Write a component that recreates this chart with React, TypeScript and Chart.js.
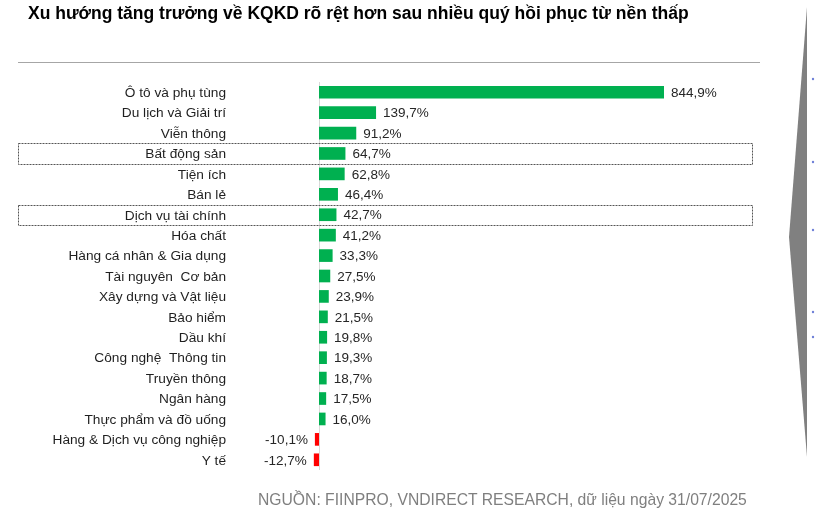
import React, { useEffect, useRef } from "react";
import { Chart, registerables } from "chart.js";

Chart.register(...registerables);

const categories: string[] = [
  "Ô tô và phụ tùng",
  "Du lịch và Giải trí",
  "Viễn thông",
  "Bất động sản",
  "Tiện ích",
  "Bán lẻ",
  "Dịch vụ tài chính",
  "Hóa chất",
  "Hàng cá nhân & Gia dụng",
  "Tài nguyên  Cơ bản",
  "Xây dựng và Vật liệu",
  "Bảo hiểm",
  "Dầu khí",
  "Công nghệ  Thông tin",
  "Truyền thông",
  "Ngân hàng",
  "Thực phẩm và đồ uống",
  "Hàng & Dịch vụ công nghiệp",
  "Y tế",
];

const growth: number[] = [
  844.9, 139.7, 91.2, 64.7, 62.8, 46.4, 42.7, 41.2, 33.3, 27.5, 23.9, 21.5, 19.8,
  19.3, 18.7, 17.5, 16.0, -10.1, -12.7,
];

const highlighted: string[] = ["Bất động sản", "Dịch vụ tài chính"];

const TITLE = "Xu hướng tăng trưởng về KQKD rõ rệt hơn sau nhiều quý hồi phục từ nền thấp";
const SOURCE = "NGUỒN: FIINPRO, VNDIRECT RESEARCH, dữ liệu ngày 31/07/2025";

const fmt = (v: number) => v.toFixed(1).replace(".", ",") + "%";

const extras = {
  id: "extras",
  beforeDatasetsDraw(chart: any) {
    const { ctx, chartArea, scales } = chart;
    const x0 = Math.round(scales.x.getPixelForValue(0)) + 0.5;
    ctx.save();
    ctx.strokeStyle = "#d9d9d9";
    ctx.lineWidth = 1;
    ctx.beginPath();
    ctx.moveTo(x0, chartArea.top);
    ctx.lineTo(x0, chartArea.bottom);
    ctx.stroke();
    ctx.restore();
  },
  afterDatasetsDraw(chart: any) {
    const { ctx, scales } = chart;
    const meta = chart.getDatasetMeta(0);
    ctx.save();
    ctx.font = "13.5px 'Liberation Sans', Arial, sans-serif";
    ctx.fillStyle = "#262626";
    ctx.textBaseline = "middle";
    meta.data.forEach((bar: any, i: number) => {
      const v = growth[i];
      if (v >= 0) {
        ctx.textAlign = "left";
        ctx.fillText(fmt(v), bar.x + 7, bar.y + 1);
      } else {
        ctx.textAlign = "right";
        ctx.fillText(fmt(v), bar.x - 7, bar.y + 1);
      }
    });
    // highlight boxes
    const step = scales.y.getPixelForValue(1) - scales.y.getPixelForValue(0);
    ctx.strokeStyle = "#555555";
    ctx.lineWidth = 1;
    ctx.setLineDash([2, 1]);
    highlighted.forEach((name) => {
      const idx = categories.indexOf(name);
      const yc = scales.y.getPixelForValue(idx);
      const top = Math.round(yc - step / 2) + 0.5;
      const bottom = Math.round(yc + step / 2) + 0.5;
      ctx.strokeRect(18.5, top, 734, bottom - top);
    });
    ctx.restore();
  },
};

export default function App() {
  const ref = useRef<HTMLCanvasElement | null>(null);
  useEffect(() => {
    if (!ref.current) return;
    const chart = new Chart(ref.current, {
      type: "bar",
      data: {
        labels: categories,
        datasets: [
          {
            data: growth,
            backgroundColor: growth.map((v) => (v >= 0 ? "#00B050" : "#FF0000")),
            barPercentage: 0.62,
            categoryPercentage: 1,
          },
        ],
      },
      options: {
        indexAxis: "y",
        responsive: false,
        animation: false,
        devicePixelRatio: 1,
        layout: { padding: { top: 82, bottom: 40, left: 0, right: 55 } },
        plugins: { legend: { display: false }, tooltip: { enabled: false } },
        scales: {
          x: { display: false, min: -218, max: 1080 },
          y: {
            position: "left",
            grid: { display: false, drawTicks: false },
            border: { display: false },
            ticks: {
              padding: 4,
              labelOffset: 1,
              color: "#1f1f1f",
              font: { family: "'Liberation Sans', Arial, sans-serif", size: 13.7 },
              autoSkip: false,
            },
            afterFit: (s: any) => {
              s.width = 230;
            },
          },
        },
      },
      plugins: [extras],
    } as any);
    return () => chart.destroy();
  }, []);

  return (
    <div style={{ position: "fixed", left: 0, top: 0, width: 815, height: 510, background: "#fff", overflow: "hidden" }}>
      <canvas ref={ref} width={815} height={510} style={{ position: "absolute", left: 0, top: 0 }} />
      <div
        style={{
          position: "absolute",
          left: 28,
          top: 5,
          fontFamily: "'Liberation Sans', Arial, sans-serif",
          fontWeight: "bold",
          fontSize: 17.5,
          lineHeight: "17.5px",
          color: "#000",
          whiteSpace: "nowrap",
        }}
      >
        {TITLE}
      </div>
      <div style={{ position: "absolute", left: 18, top: 62, width: 742, height: 1, background: "#a6a6a6" }} />
      <div
        style={{
          position: "absolute",
          left: 258,
          top: 492,
          fontFamily: "'Liberation Sans', Arial, sans-serif",
          fontSize: 15.7,
          lineHeight: "15.7px",
          color: "#7f7f7f",
          whiteSpace: "nowrap",
        }}
      >
        {SOURCE}
      </div>
      <svg width={815} height={510} style={{ position: "absolute", left: 0, top: 0, pointerEvents: "none" }}>
        <polygon points="807,7 789,237 807,457" fill="#808080" />
        {[79, 162, 230, 312, 337].map((y) => (
          <circle key={y} cx={813} cy={y} r={1.2} fill="#6f80d8" />
        ))}
      </svg>
    </div>
  );
}
